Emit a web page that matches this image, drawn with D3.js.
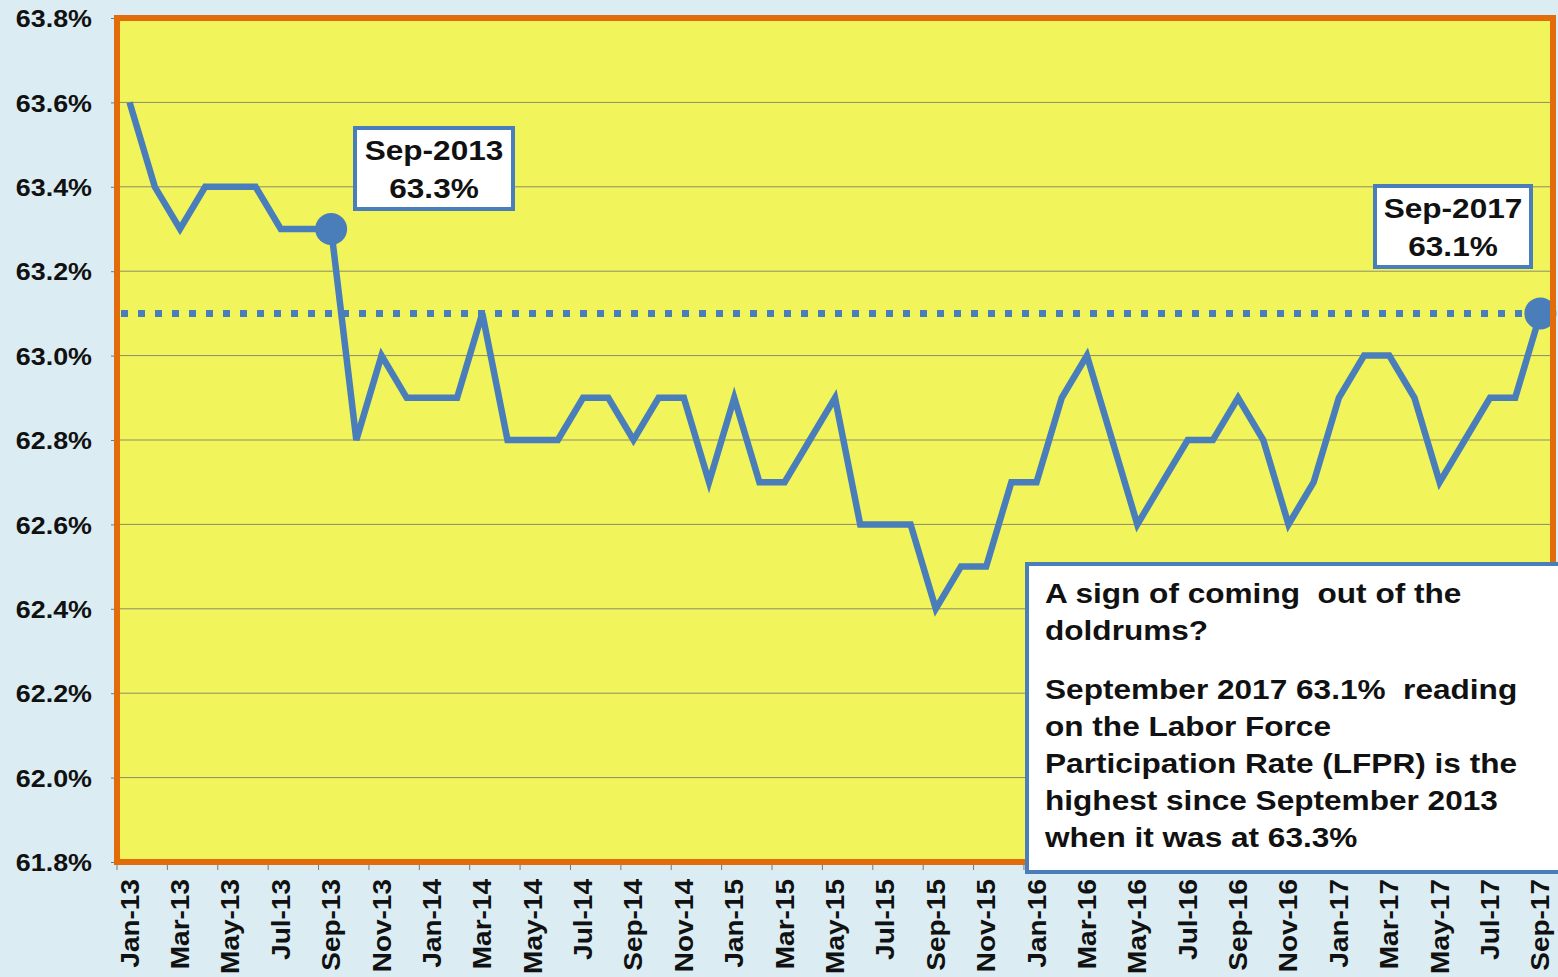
<!DOCTYPE html>
<html>
<head>
<meta charset="utf-8">
<script src="https://cdn.jsdelivr.net/npm/d3@7"></script>
<style>
  html, body { margin: 0; padding: 0; background: #dbedf3; }
  svg { display: block; font-family: "Liberation Sans", Arial, sans-serif; }
  .ylab { font-size: 24px; font-weight: bold; fill: #111; }
  .xlab { font-size: 28px; font-weight: bold; fill: #111; }
  .note { font-size: 27px; font-weight: bold; fill: #111; }
</style>
</head>
<body>
<svg id="chart" width="1558" height="977"></svg>
<script>
// Labor force participation rate, monthly Jan-2013 .. Sep-2017
const months = [
  'Jan-13','Feb-13','Mar-13','Apr-13','May-13','Jun-13','Jul-13','Aug-13','Sep-13','Oct-13','Nov-13','Dec-13',
  'Jan-14','Feb-14','Mar-14','Apr-14','May-14','Jun-14','Jul-14','Aug-14','Sep-14','Oct-14','Nov-14','Dec-14',
  'Jan-15','Feb-15','Mar-15','Apr-15','May-15','Jun-15','Jul-15','Aug-15','Sep-15','Oct-15','Nov-15','Dec-15',
  'Jan-16','Feb-16','Mar-16','Apr-16','May-16','Jun-16','Jul-16','Aug-16','Sep-16','Oct-16','Nov-16','Dec-16',
  'Jan-17','Feb-17','Mar-17','Apr-17','May-17','Jun-17','Jul-17','Aug-17','Sep-17'
];
const lfpr = [
  63.6, 63.4, 63.3, 63.4, 63.4, 63.4, 63.3, 63.3, 63.3, 62.8, 63.0, 62.9,
  62.9, 62.9, 63.1, 62.8, 62.8, 62.8, 62.9, 62.9, 62.8, 62.9, 62.9, 62.7,
  62.9, 62.7, 62.7, 62.8, 62.9, 62.6, 62.6, 62.6, 62.4, 62.5, 62.5, 62.7,
  62.7, 62.9, 63.0, 62.8, 62.6, 62.7, 62.8, 62.8, 62.9, 62.8, 62.6, 62.7,
  62.9, 63.0, 63.0, 62.9, 62.7, 62.8, 62.9, 62.9, 63.1
];
const yTicks = [61.8, 62.0, 62.2, 62.4, 62.6, 62.8, 63.0, 63.2, 63.4, 63.6, 63.8];
const xTickLabels = months.filter((_, i) => i % 2 === 0);
const refLevel = 63.1;
const highlights = [
  { month: 'Sep-13', lines: ['Sep-2013', '63.3%'] },
  { month: 'Sep-17', lines: ['Sep-2017', '63.1%'] }
];
const noteLines = [
  'A sign of coming  out of the',
  'doldrums?',
  'September 2017 63.1%  reading',
  'on the Labor Force',
  'Participation Rate (LFPR) is the',
  'highest since September 2013',
  'when it was at 63.3%'
];

const BLUE = '#4a7ebb';
const ORANGE = '#e26b0a';
const PLOT = { left: 117, right: 1553, top: 18, bottom: 862 };
const STRETCH = 1.17; // the source text is a bit wider than plain Arial

const svg = d3.select('#chart');

const x = d3.scaleBand().domain(months).range([PLOT.left, PLOT.right]).padding(0);
const xc = m => x(m) + x.bandwidth() / 2;
const y = d3.scaleLinear().domain([61.8, 63.8]).range([PLOT.bottom, PLOT.top]);

// plot background
svg.append('rect')
  .attr('x', PLOT.left).attr('y', PLOT.top)
  .attr('width', PLOT.right - PLOT.left).attr('height', PLOT.bottom - PLOT.top)
  .attr('fill', '#f1f55b');

// gridlines
svg.append('g')
  .selectAll('line')
  .data(yTicks)
  .join('line')
  .attr('x1', PLOT.left).attr('x2', PLOT.right)
  .attr('y1', d => y(d)).attr('y2', d => y(d))
  .attr('stroke', '#8b8b6a')
  .attr('stroke-width', 1);

// y axis ticks + labels
const yAxis = svg.append('g')
  .attr('transform', `translate(${PLOT.left},0)`)
  .call(d3.axisLeft(y).tickValues(yTicks).tickSize(6)
    .tickFormat(d => d.toFixed(1) + '%'));
yAxis.select('.domain').remove();
yAxis.selectAll('line').attr('stroke', '#777');
yAxis.selectAll('.tick text')
  .attr('class', 'ylab')
  .attr('dy', '0.36em')
  .attr('x', -25 / 1.12)
  .attr('transform', 'scale(1.12,1)');

// x axis tick marks at category boundaries, every 2 months
const boundaries = xTickLabels.map(m => x(m));
boundaries.push(PLOT.right);
svg.append('g')
  .selectAll('line')
  .data(boundaries)
  .join('line')
  .attr('x1', d => d).attr('x2', d => d)
  .attr('y1', PLOT.bottom).attr('y2', PLOT.bottom + 8)
  .attr('stroke', '#777');

// x labels, rotated
svg.append('g')
  .selectAll('text')
  .data(xTickLabels)
  .join('text')
  .attr('class', 'xlab')
  .attr('transform', d => `translate(${xc(d) + 9},${PLOT.bottom + 17}) rotate(-90) scale(1,0.92)`)
  .attr('text-anchor', 'end')
  .text(d => d);

// reference dotted line at Sep-2017 level
svg.append('line')
  .attr('x1', PLOT.left + 4).attr('x2', xc(months[months.length - 1]))
  .attr('y1', y(refLevel)).attr('y2', y(refLevel))
  .attr('stroke', BLUE)
  .attr('stroke-width', 7)
  .attr('stroke-dasharray', '7 10');

// main line
const line = d3.line()
  .x((_, i) => xc(months[i]))
  .y(d => y(d));
svg.append('path')
  .datum(lfpr)
  .attr('d', line)
  .attr('fill', 'none')
  .attr('stroke', BLUE)
  .attr('stroke-width', 6.5)
  .attr('stroke-linejoin', 'miter');

// highlight markers
svg.append('g')
  .selectAll('circle')
  .data(highlights)
  .join('circle')
  .attr('cx', d => xc(d.month))
  .attr('cy', d => y(lfpr[months.indexOf(d.month)]))
  .attr('r', 16)
  .attr('fill', BLUE);

// plot border
svg.append('rect')
  .attr('x', PLOT.left).attr('y', PLOT.top)
  .attr('width', PLOT.right - PLOT.left).attr('height', PLOT.bottom - PLOT.top)
  .attr('fill', 'none')
  .attr('stroke', ORANGE)
  .attr('stroke-width', 6);

// data callouts
const callBoxes = [
  { x: 355, y: 128, w: 158, h: 81 },
  { x: 1375, y: 186, w: 156, h: 81 }
];
highlights.forEach((h, i) => {
  const b = callBoxes[i];
  const g = svg.append('g');
  g.append('rect')
    .attr('x', b.x).attr('y', b.y).attr('width', b.w).attr('height', b.h)
    .attr('fill', '#fff').attr('stroke', BLUE).attr('stroke-width', 4);
  g.selectAll('text')
    .data(h.lines)
    .join('text')
    .attr('class', 'note')
    .attr('text-anchor', 'middle')
    .attr('transform', (_, j) => `translate(${b.x + b.w / 2},${b.y + 32 + j * 38}) scale(${STRETCH},1)`)
    .text(d => d);
});

// commentary box
const nb = { x: 1027, y: 564, w: 540, h: 308 };
svg.append('rect')
  .attr('x', nb.x).attr('y', nb.y).attr('width', nb.w).attr('height', nb.h)
  .attr('fill', '#fff').attr('stroke', BLUE).attr('stroke-width', 4);
const noteY = [603, 640, 699, 736, 773, 810, 847];
svg.append('g')
  .selectAll('text')
  .data(noteLines)
  .join('text')
  .attr('class', 'note')
  .attr('transform', (_, i) => `translate(1045,${noteY[i]}) scale(${STRETCH},1)`)
  .style('white-space', 'pre')
  .text(d => d);
</script>
</body>
</html>
